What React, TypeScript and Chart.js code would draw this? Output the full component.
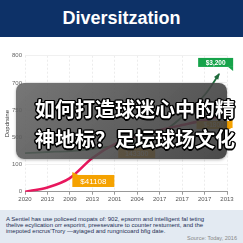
import React, { useEffect, useRef } from 'react';
import { Chart, registerables } from 'chart.js';

Chart.register(...registerables);

const xLabels = ['2020', '2013', '2009', '2013', '2001', '2004', '2017', '2017', '2017', '2013'];
const yTickLabels = ['0', '100', '500', '750', '700', '800'];
const redValues = [0, 31, 100, 248, 350, 409, 453, 490, 527, 571];
const greenValues = [284, 292, 299, 314, 336, 365, 424, 549, 711];
const greenArrowTip = { x: 8.65, y: 866 };
const boxLabels = ['$3,200', '$41108', '143300', '$-1800'];

const RED = '#e8175d';
const GREEN = '#1f6b3c';
const ORANGE = '#f5a200';
const BRIGHT_GREEN = '#16a34a';

function drawBox(ctx: CanvasRenderingContext2D, text: string, x: number, y: number, w: number, h: number, color: string, font: string) {
  ctx.fillStyle = color;
  ctx.fillRect(x, y, w, h);
  ctx.fillStyle = '#ffffff';
  ctx.font = font;
  ctx.textAlign = 'center';
  ctx.textBaseline = 'middle';
  ctx.fillText(text, x + w / 2, y + h / 2 + 0.5);
}

const boxPlugin = {
  id: 'boxes',
  afterDatasetsDraw(chart: any) {
    const ctx: CanvasRenderingContext2D = chart.ctx;
    const red = chart.getDatasetMeta(0).data;
    const green = chart.getDatasetMeta(1).data;
    ctx.save();
    // arrow head on green line
    const gl = green[green.length - 1];
    const gp = green[green.length - 2];
    const ang = Math.atan2(gl.y - gp.y, gl.x - gp.x);
    const L = 6;
    ctx.fillStyle = GREEN;
    ctx.beginPath();
    ctx.moveTo(gl.x + Math.cos(ang) * 1, gl.y + Math.sin(ang) * 1);
    ctx.lineTo(gl.x - L * Math.cos(ang - 0.45), gl.y - L * Math.sin(ang - 0.45));
    ctx.lineTo(gl.x - L * Math.cos(ang + 0.45), gl.y - L * Math.sin(ang + 0.45));
    ctx.closePath();
    ctx.fill();

    // $3,200 green label
    {
      const bx = gl.x - 21, by = gl.y - 16, bw = 35, bh = 9;
      drawBox(ctx, boxLabels[0], bx, by, bw, bh, BRIGHT_GREEN, 'bold 6.5px "Liberation Sans", Arial, sans-serif');
      ctx.fillStyle = BRIGHT_GREEN;
      ctx.beginPath();
      ctx.moveTo(bx + bw - 5, by + bh);
      ctx.lineTo(bx + bw, by + bh);
      ctx.lineTo(bx + bw, by + bh + 4);
      ctx.closePath();
      ctx.fill();
    }
    // $41108 orange label
    {
      const p = red[3];
      const bx = p.x - 20, by = p.y + 17, bw = 42, bh = 12;
      drawBox(ctx, boxLabels[1], bx, by, bw, bh, ORANGE, '8px "Liberation Sans", Arial, sans-serif');
      ctx.fillStyle = ORANGE;
      ctx.beginPath();
      ctx.moveTo(bx, by - 3);
      ctx.lineTo(bx, by);
      ctx.lineTo(bx + 6, by);
      ctx.closePath();
      ctx.fill();
    }
    // 143300
    {
      const p = red[5];
      drawBox(ctx, boxLabels[2], p.x - 19, p.y + 12, 37, 10, ORANGE, '7px "Liberation Sans", Arial, sans-serif');
    }
    // $-1800
    {
      const p = red[8];
      drawBox(ctx, boxLabels[3], p.x - 8, p.y + 1, 34, 8, ORANGE, '6.5px "Liberation Sans", Arial, sans-serif');
      ctx.fillStyle = ORANGE;
      ctx.fillRect(p.x + 25, p.y - 1, 3, 9);
    }
    ctx.restore();
  },
};

function ChartCanvas() {
  const ref = useRef<HTMLCanvasElement | null>(null);
  useEffect(() => {
    if (!ref.current) return;
    const redData = redValues.map((v, i) => ({ x: i, y: v }));
    const greenData = greenValues.map((v, i) => ({ x: i, y: v })).concat([{ x: greenArrowTip.x, y: greenArrowTip.y }]);
    const chart = new Chart(ref.current, {
      type: 'line',
      data: {
        datasets: [
          {
            data: redData,
            borderColor: RED,
            borderWidth: 2.5,
            pointRadius: 0,
            tension: 0.3,
            fill: false,
          },
          {
            data: greenData,
            borderColor: GREEN,
            borderWidth: 1.8,
            pointRadius: 0,
            tension: 0.3,
            fill: false,
          },
        ],
      },
      options: {
        responsive: false,
        animation: false,
        devicePixelRatio: 1,
        layout: { padding: { top: 18.7, right: 16, left: 0, bottom: 0 } },
        plugins: { legend: { display: false }, tooltip: { enabled: false } },
        scales: {
          x: {
            type: 'linear',
            min: 0,
            max: 9,
            afterFit: (s: any) => { s.height = 18.3; },
            ticks: {
              stepSize: 1,
              autoSkip: false,
              maxRotation: 0,
              padding: 1,
              color: '#555',
              font: { family: '"Liberation Sans", Arial, sans-serif', size: 6 },
              callback: (v: any) => xLabels[v] ?? '',
            },
            grid: { color: '#ececec', tickLength: 3, tickColor: '#999' },
            border: { color: '#999', dash: [2, 2] },
          },
          y: {
            min: 0,
            max: 1000,
            afterFit: (s: any) => { s.width = 25; },
            ticks: {
              stepSize: 200,
              padding: 3,
              color: '#666',
              font: { family: '"Liberation Sans", Arial, sans-serif', size: 6 },
              callback: (v: any) => yTickLabels[Math.round(v / 200)] ?? '',
            },
            grid: { color: '#f0f0f0', drawTicks: false },
            border: { display: false },
            title: {
              display: true,
              text: 'Dopdrsine',
              color: '#333',
              font: { family: '"Liberation Sans", Arial, sans-serif', size: 6 },
            },
          },
        },
      },
      plugins: [boxPlugin],
    });
    return () => chart.destroy();
  }, []);
  return <canvas ref={ref} width={243} height={173} style={{ position: 'absolute', left: 0, top: 37, width: 243, height: 173 }} />;
}

const outline = '1.5px 0 0 #000, -1.5px 0 0 #000, 0 1.5px 0 #000, 0 -1.5px 0 #000, 1px 1px 0 #000, -1px -1px 0 #000, 1px -1px 0 #000, -1px 1px 0 #000';

export default function App() {
  useEffect(() => {
    document.body.style.margin = '0';
  }, []);
  return (
    <div style={{ position: 'fixed', left: 0, top: 0, width: 243, height: 243, background: '#ffffff', overflow: 'hidden' }}>
      <div style={{ position: 'absolute', left: 0, top: 0, width: 243, height: 37, background: '#0d3167', color: '#fff', fontFamily: '"Liberation Sans", Arial, sans-serif', fontWeight: 700, fontSize: 18, lineHeight: '37px', textAlign: 'center' }}>
        Diversitzation
      </div>
      <ChartCanvas />
      <div style={{ position: 'absolute', left: 16, top: 83, width: 211, height: 76, borderRadius: 8, background: 'linear-gradient(135deg, rgba(100,100,100,0.88), rgba(55,55,55,0.9))', boxShadow: '0 1px 3px rgba(0,0,0,0.3)' }} />
      <div style={{ position: 'absolute', left: 35, top: 94, whiteSpace: 'nowrap', color: '#fff', fontFamily: '"Noto Sans CJK SC", sans-serif', fontWeight: 700, fontSize: 20, lineHeight: '30px', textShadow: outline }}>
        如何打造球迷心中的精<br />神地标？足坛球场文化
      </div>
      <div style={{ position: 'absolute', left: 0, top: 210, width: 243, height: 33, background: '#e3eaf2' }}>
        <div style={{ position: 'absolute', left: 6, top: 7.2, whiteSpace: 'nowrap', color: '#1d2f52', fontFamily: '"Liberation Sans", Arial, sans-serif', fontSize: 6, lineHeight: '5.7px' }}>
          A Sentiel has use policeed mopats of: 902, epsorm and intelligent fal teting<br />
          thelive ecylication orr esporint, preesevaiure to counter restument, and the<br />
          imepoted encrus'Trory —ayiaged and rungnicoard bfig date.
        </div>
        <div style={{ position: 'absolute', right: 6, top: 25.5, whiteSpace: 'nowrap', color: '#888', fontFamily: '"Liberation Sans", Arial, sans-serif', fontSize: 5.5, lineHeight: '5.5px' }}>
          Source: Today, 2016
        </div>
      </div>
    </div>
  );
}
